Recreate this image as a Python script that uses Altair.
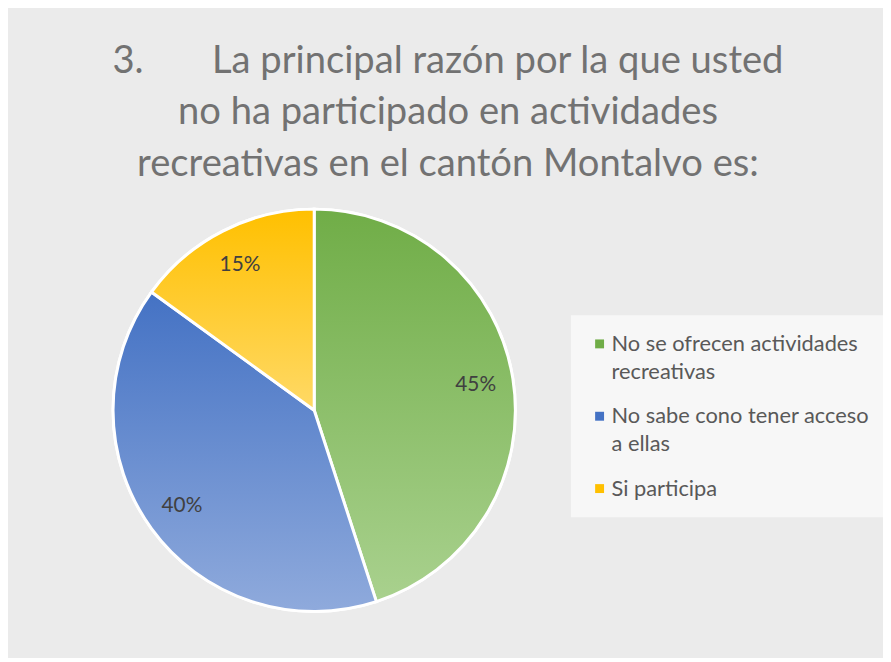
import altair as alt
import pandas as pd

# ---- data ----
categorias = [
    "No se ofrecen actividades recreativas",
    "No sabe cono tener acceso a ellas",
    "Si participa",
]
valores = [45, 40, 15]
etiquetas = ["45%", "40%", "15%"]
orden = [1, 2, 3]
leyenda_lineas = [
    ["No se ofrecen actividades", "recreativas"],
    ["No sabe cono tener acceso", "a ellas"],
    ["Si participa"],
]
titulo = [
    "3.\u00a0\u00a0\u00a0\u00a0\u00a0\u00a0\u00a0La principal razón por la que usted",
    "no ha participado en actividades",
    "recreativas en el cantón Montalvo es:",
]

colores_top = ["#70ad47", "#4472c4", "#ffc000"]
colores_bottom = ["#a9d18e", "#8faadc", "#ffd966"]

df = pd.DataFrame({"categoria": categorias, "valor": valores,
                   "etiqueta": etiquetas, "orden": orden})

# legend label expression building multi-line labels
expr = "datum.label"
for cat, lines in reversed(list(zip(categorias, leyenda_lineas))):
    arr = "[" + ",".join("'" + l + "'" for l in lines) + "]"
    expr = f"datum.label == '{cat}' ? {arr} : ({expr})"

base = alt.Chart(df).transform_stack(
    stack="valor", groupby=[], as_=["v0", "v1"], sort=[alt.SortField("orden")]
).transform_calculate(mid="(datum.v0 + datum.v1) / 2")

theta_scale = alt.Scale(domain=[0, 100])
R = 203

legend_layer = base.mark_arc(radius=R, stroke="white", strokeWidth=3).encode(
    theta=alt.Theta("v0:Q", scale=theta_scale),
    theta2="v1:Q",
    color=alt.Color(
        "categoria:N",
        sort=categorias,
        scale=alt.Scale(domain=categorias, range=colores_top),
        legend=alt.Legend(
            title=None,
            orient="none",
            legendX=565,
            legendY=114,
            symbolType="square",
            symbolSize=81,
            symbolStrokeWidth=0,
            labelFont="Lato",
            labelFontSize=22,
            labelColor="#595959",
            labelLimit=400,
            labelOffset=1,
            rowPadding=23,
            padding=18,
            fillColor="rgba(255,255,255,0.6)",
            labelExpr=expr,
        ),
    ),
)

grad_layers = []
for cat, ct, cb in zip(categorias, colores_top, colores_bottom):
    grad = alt.LinearGradient(
        gradient="linear", x1=0, y1=0, x2=0, y2=1,
        stops=[alt.GradientStop(offset=0, color=ct),
               alt.GradientStop(offset=1, color=cb)],
    )
    grad_layers.append(
        base.transform_filter(alt.datum.categoria == cat)
        .mark_arc(radius=R, stroke="white", strokeWidth=3, color=grad)
        .encode(theta=alt.Theta("v0:Q", scale=theta_scale), theta2="v1:Q")
    )

text_layer = base.mark_text(
    radius=165, font="Lato", fontSize=21, color="#404040"
).encode(
    theta=alt.Theta("mid:Q", scale=theta_scale),
    text="etiqueta:N",
)

chart = alt.layer(legend_layer, *grad_layers, text_layer).properties(
    width=612,
    height=420,
    autosize=alt.AutoSizeParams(type="none"),
    padding={"left": 3, "top": 193, "right": 268, "bottom": 37},
    title=alt.Title(
        text=titulo,
        font="Lato",
        fontSize=38.5,
        fontWeight="normal",
        color="#727272",
        lineHeight=52,
        anchor="middle",
        dx=135,
        offset=18,
    ),
).configure(
    background="#ebebeb",
    style={"guide-label": {"lineHeight": 28}},
).configure_view(stroke=None)

chart.save("out.html", embed_options={"renderer": "svg", "actions": False})
